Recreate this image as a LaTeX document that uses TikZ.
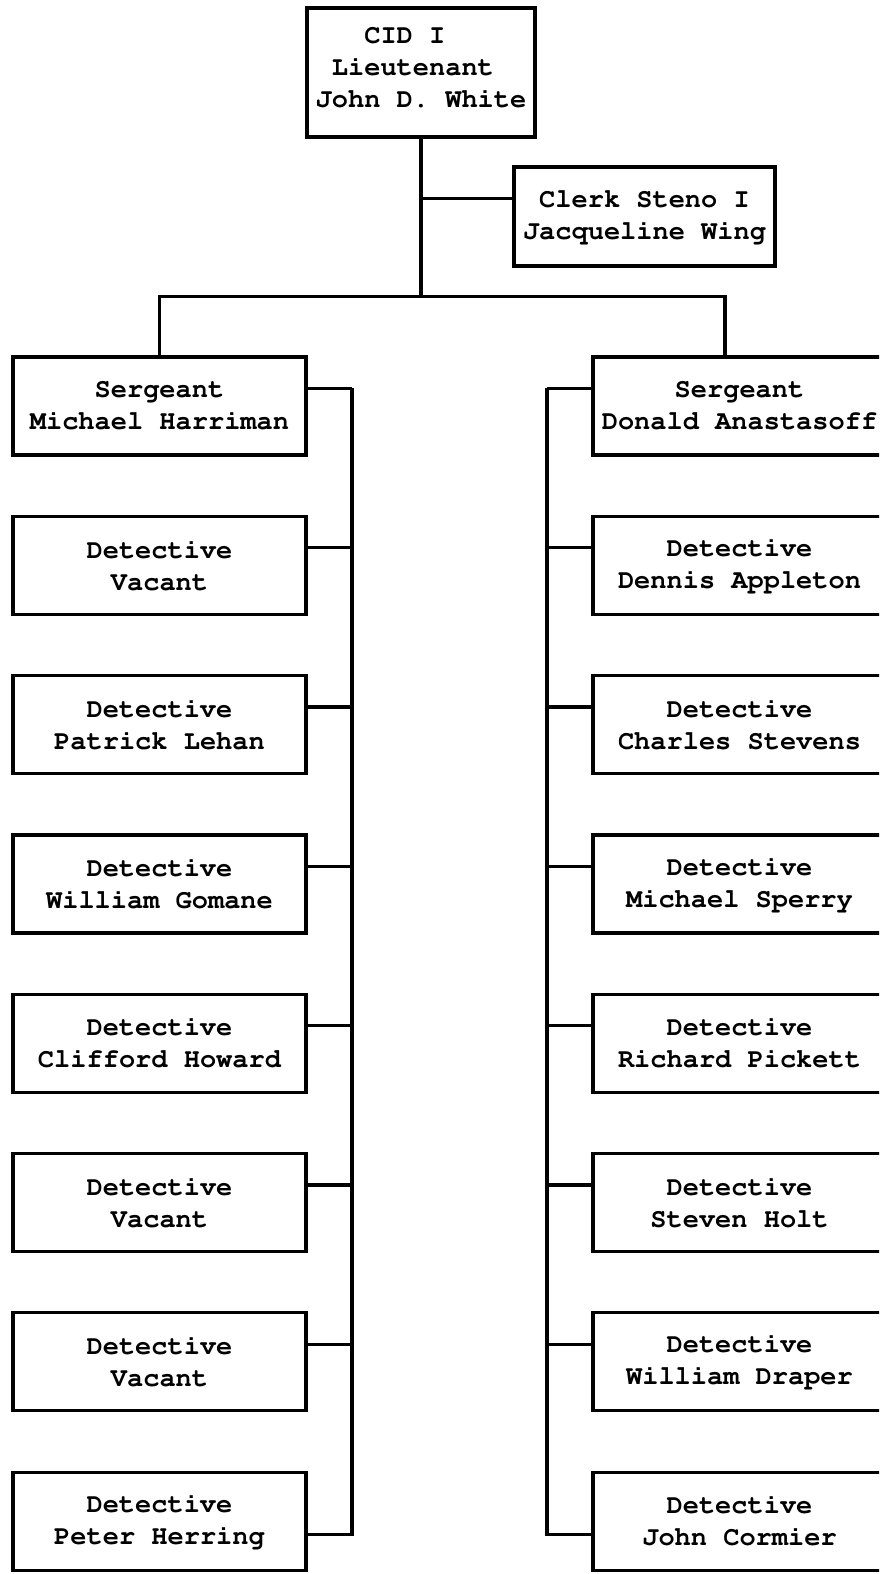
\documentclass[tikz,border=0pt]{standalone}
\usepackage[T1]{fontenc}
\usepackage{courier}
\usetikzlibrary{calc}
\begin{document}
\begin{tikzpicture}[x=0.5pt,y=-0.5pt,
  typed/.style={font=\ttfamily\bfseries\fontsize{13.5}{16}\selectfont, align=center},
  box/.style={typed, draw, line width=1.6pt, inner sep=0pt, minimum width=146.5pt,
    minimum height=49pt},
  link/.style={line width=1.6pt}]
\useasboundingbox (0,0) rectangle (879,1574);
\clip (0,0) rectangle (879,1574);

% head of the division and clerk
\node[box, minimum width=114pt, minimum height=64.5pt] (lt) at (421,72.5) {};
\node[typed, inner sep=0pt] (ltext) at ($(lt.center)+(0,-5)$)
  {CID I\phantom{II}\\Lieutenant\phantom{I}\\John D. White};
\node[box, minimum width=130.5pt, minimum height=49.5pt] (clerk) at (644.5,216.5)
  {Clerk Steno I\\Jacqueline Wing};

% left column
\node[box] (L0) at (159.5,406)    {Sergeant\\Michael Harriman};
\node[box] (L1) at (159.5,565.3)  {Detective\\Vacant};
\node[box] (L2) at (159.5,724.6)  {Detective\\Patrick Lehan};
\node[box] (L3) at (159.5,883.9)  {Detective\\William Gomane};
\node[box] (L4) at (159.5,1043.2) {Detective\\Clifford Howard};
\node[box] (L5) at (159.5,1202.5) {Detective\\Vacant};
\node[box] (L6) at (159.5,1361.8) {Detective\\Vacant};
\node[box] (L7) at (159.5,1521.1) {Detective\\Peter Herring};

% right column
\node[box] (R0) at (739.5,406)    {Sergeant\\Donald Anastasoff};
\node[box] (R1) at (739.5,565.3)  {Detective\\Dennis Appleton};
\node[box] (R2) at (739.5,724.6)  {Detective\\Charles Stevens};
\node[box] (R3) at (739.5,883.9)  {Detective\\Michael Sperry};
\node[box] (R4) at (739.5,1043.2) {Detective\\Richard Pickett};
\node[box] (R5) at (739.5,1202.5) {Detective\\Steven Holt};
\node[box] (R6) at (739.5,1361.8) {Detective\\William Draper};
\node[box] (R7) at (739.5,1521.1) {Detective\\John Cormier};

% top of the chart
\draw[link] (lt.south) -- ++(0,158) coordinate (hub);
\draw[link] ($(clerk.north west)+(0,33)$) coordinate (cs) -- (cs -| lt.south);
\draw[link] (L0.north) |- (hub) -| ($(R0.north)+(-14.5,0)$);

% column trunks
\coordinate (ltrunk) at (352,0);
\coordinate (rtrunk) at (547,0);
\foreach \i in {0,...,6}{
  \coordinate (ls\i) at ($(L\i.north east)+(0,33)$);
  \coordinate (rs\i) at ($(R\i.north west)+(0,33)$);
  \draw[link] (ls\i) -- (ls\i -| ltrunk);
  \draw[link] (rs\i) -- (rs\i -| rtrunk);
}
\coordinate (ls7) at ($(L7.north east)+(0,64)$);
\coordinate (rs7) at ($(R7.north west)+(0,64)$);
\draw[link] (ls0 -| ltrunk) -- (ls7 -| ltrunk) -- (ls7);
\draw[link] (rs0 -| rtrunk) -- (rs7 -| rtrunk) -- (rs7);
\end{tikzpicture}
\end{document}
